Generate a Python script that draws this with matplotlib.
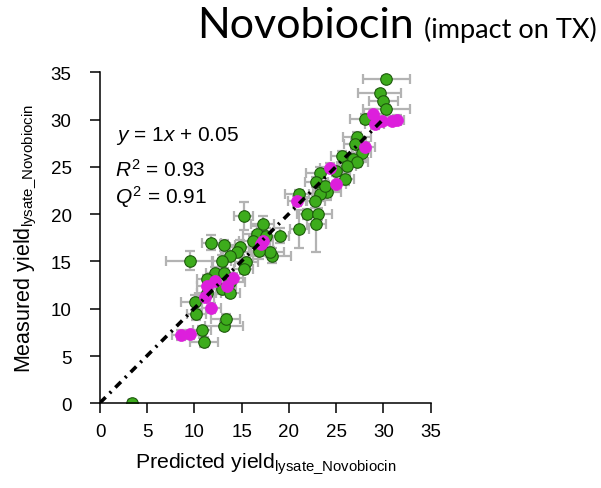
import matplotlib
matplotlib.use("Agg")
import matplotlib.pyplot as plt
import numpy as np

plt.rcParams['mathtext.fontset'] = 'custom'
plt.rcParams['mathtext.rm'] = 'Liberation Sans'
plt.rcParams['mathtext.it'] = 'Liberation Sans:italic'
plt.rcParams['mathtext.bf'] = 'Liberation Sans:bold'
plt.rcParams['font.family'] = ['Liberation Sans', 'DejaVu Sans']

# ---- data ----
green_pred = [30.3, 29.6, 30.0, 30.3, 28.0, 27.2, 27.0, 27.7, 25.6, 26.8, 27.2, 26.1,
              25.0, 25.9, 23.3, 22.9, 24.0, 23.3, 22.8, 21.1, 21.9, 23.1, 22.9, 21.1, 23.8,
              15.2, 17.2, 16.6, 17.6, 19.0, 18.2, 18.0, 16.8, 16.2, 14.8, 14.5, 13.8,
              12.9, 11.8, 13.1, 9.5, 15.5, 15.2, 12.2, 13.1, 13.8, 11.3, 12.9, 13.8,
              11.3, 10.1, 10.2, 13.1, 13.3, 10.8, 11.0, 3.4]
green_meas = [34.3, 32.8, 32.0, 31.1, 30.1, 28.2, 27.4, 26.5, 26.1, 25.8, 25.5, 25.1,
              24.6, 23.7, 24.4, 23.4, 22.3, 22.1, 21.4, 22.1, 20.0, 20.0, 19.0, 18.4, 23.0,
              19.8, 19.0, 17.9, 17.7, 17.7, 15.6, 16.0, 16.1, 17.2, 16.5, 16.0, 15.6,
              15.1, 17.0, 16.7, 15.1, 14.9, 14.2, 13.8, 13.8, 12.8, 13.1, 12.1, 11.7,
              11.7, 10.7, 9.4, 8.2, 8.9, 7.7, 6.5, 0.0]
green_xerr = [2.5, 2.3, 1.5, 2.5, 1.5, 1.5, 1.2, 1.0, 1.2, 1.0, 1.2, 1.0,
              1.5, 1.0, 1.5, 1.2, 1.5, 1.2, 1.0, 1.5, 1.0, 1.5, 1.0, 1.0, 1.0,
              1.0, 1.2, 1.5, 1.5, 1.0, 2.0, 1.5, 1.0, 1.5, 1.0, 1.5, 1.0,
              1.0, 1.0, 1.2, 2.5, 1.2, 1.0, 1.0, 1.0, 1.5, 1.0, 1.0, 1.0,
              1.0, 1.5, 1.0, 2.0, 1.5, 1.0, 1.5, 0.3]
green_yerr = [0.3, 0.3, 0.3, 0.4, 0.5, 0.5, 0.5, 0.8, 0.6, 0.5, 0.5, 0.5,
              0.5, 0.6, 0.6, 0.5, 0.8, 0.5, 0.8, 0.5, 0.5, 0.6, 3.0, 2.0, 0.5,
              1.5, 0.8, 0.8, 0.8, 0.8, 0.8, 0.5, 0.8, 0.5, 0.8, 0.5, 0.5,
              0.6, 0.8, 0.6, 1.0, 0.6, 0.5, 0.6, 0.5, 0.5, 0.5, 0.5, 0.5,
              0.5, 0.8, 0.6, 0.5, 0.5, 0.5, 0.5, 0.3]

magenta_pred = [28.9, 29.8, 30.9, 31.4, 29.1, 28.1, 24.3, 25.0, 20.9, 17.3, 17.0,
                14.1, 13.4, 12.2, 11.3, 11.1, 11.8, 8.6, 9.5]
magenta_meas = [30.6, 29.9, 29.9, 30.0, 29.5, 27.1, 24.9, 23.2, 21.4, 17.2, 16.8,
                13.3, 12.4, 12.9, 12.4, 11.2, 10.1, 7.2, 7.3]
magenta_xerr = [1.0, 1.0, 1.0, 0.8, 1.0, 1.0, 1.0, 1.0, 1.0, 1.0, 1.0,
                1.0, 1.0, 1.0, 1.0, 1.0, 1.0, 1.0, 1.0]
magenta_yerr = [0.5, 0.5, 0.5, 0.5, 0.5, 0.5, 0.5, 0.8, 0.5, 0.5, 0.5,
                0.5, 0.5, 0.5, 0.5, 0.5, 0.5, 0.5, 0.5]

fit_slope = 1.0
fit_intercept = 0.05
fit_x = [0.0, 30.0]

ticks = [0, 5, 10, 15, 20, 25, 30, 35]

# ---- figure ----
fig = plt.figure(figsize=(6.01, 4.89), dpi=100)
ax = fig.add_axes([0.1664, 0.1732, 0.5502, 0.6769])

err_color = '#b3b3b3'
ax.errorbar(green_pred, green_meas, xerr=green_xerr, yerr=green_yerr, fmt='none',
            ecolor=err_color, elinewidth=1.6, capsize=3.5, capthick=1.6, zorder=1)
ax.errorbar(magenta_pred, magenta_meas, xerr=magenta_xerr, yerr=magenta_yerr, fmt='none',
            ecolor=err_color, elinewidth=1.6, capsize=3.5, capthick=1.6, zorder=1)
ax.plot(green_pred, green_meas, 'o', ms=8.3, mfc='#3dac1c', mec='#1d5a0c', mew=0.8,
        zorder=2)
ax.plot(magenta_pred, magenta_meas, 'o', ms=8.6, mfc='#dd1fdc', mec='#dd1fdc', mew=0.5,
        zorder=3)
fx = np.array(fit_x)
ax.plot(fx, fit_slope * fx + fit_intercept, color='black', lw=2.6,
        dashes=(2.2, 1.6, 0.6, 1.6), zorder=4)

ax.set_xlim(0, 35)
ax.set_ylim(0, 35)
ax.set_xticks(ticks)
ax.set_yticks(ticks)
for s in ['top', 'right']:
    ax.spines[s].set_visible(False)
for s in ['left', 'bottom']:
    ax.spines[s].set_linewidth(1.1)
ax.tick_params(axis='both', direction='out', length=7.5, width=1.1, labelsize=13.5,
               colors='black')
ax.tick_params(axis='x', pad=7)
ax.tick_params(axis='y', pad=13)

ax.set_xlabel(r'Predicted yield$_{\mathrm{lysate\_Novobiocin}}$', fontsize=15.3, labelpad=7)
ax.set_ylabel(r'Measured yield$_{\mathrm{lysate\_Novobiocin}}$', fontsize=15.5, labelpad=8)

ax.text(1.7, 27.8, r'$y$ = 1$x$ + 0.05', fontsize=15, va='baseline', ha='left')
ax.text(1.6, 24.05, r'$R^2$ = 0.93', fontsize=15, va='baseline', ha='left')
ax.text(1.6, 21.25, r'$Q^2$ = 0.91', fontsize=15, va='baseline', ha='left')

fig.text(197 / 601, 1 - 38 / 489, 'Novobiocin', fontsize=31, family='Lato',
         ha='left', va='baseline')
fig.text(597 / 601, 1 - 38 / 489, '(impact on TX)', fontsize=19.5, family='Lato',
         ha='right', va='baseline')

fig.savefig('out.png', dpi=100)
